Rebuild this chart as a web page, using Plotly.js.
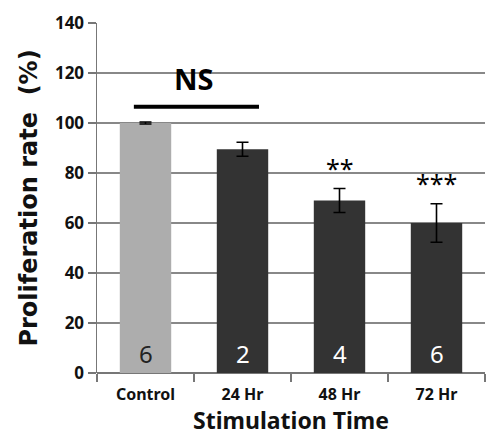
<!DOCTYPE html>
<html><head><meta charset="utf-8">
<script src="https://cdn.plot.ly/plotly-3.0.1.min.js"></script>
<style>html,body{margin:0;padding:0;background:#fff}</style>
</head><body><div id="chart" style="width:486px;height:439px"></div>
<script>
const categories = ["Control", "24 Hr", "48 Hr", "72 Hr"];
const values = [100, 89.5, 69, 60];
const errors = [0.4, 2.8, 4.8, 7.7];
const nCounts = ["6", "2", "4", "6"];
const stars = ["", "", "**", "***"];
const barColors = ["#adadad", "#333333", "#333333", "#333333"];
const countColors = ["#222222", "#ffffff", "#ffffff", "#ffffff"];
const yTicks = [0, 20, 40, 60, 80, 100, 120, 140];
const xTitle = "Stimulation Time";
const yTitle = "Proliferation rate  (%)";

const trace = {
  type: "bar", x: categories, y: values,
  marker: {color: barColors, line: {width: 0}},
  width: 0.53,
  error_y: {type: "data", array: errors, visible: true, color: "#000", thickness: 1.6, width: 6},
  hoverinfo: "none"
};

const annotations = [];
categories.forEach((c, i) => {
  annotations.push({x: c, y: 8, xref: "x", yref: "y", text: nCounts[i], showarrow: false,
    font: {family: "Noto Sans, sans-serif", size: 24, color: countColors[i]}});
  if (stars[i]) annotations.push({x: c, y: values[i] + errors[i], xref: "x", yref: "y", yanchor: "bottom", yshift: 2,
    text: stars[i], showarrow: false, font: {family: "Noto Sans, sans-serif", size: 25, color: "#000"}});
});
annotations.push({x: 0.5, y: 118, xref: "x", yref: "y", text: "<b>NS</b>", showarrow: false,
  font: {family: "Noto Sans, sans-serif", size: 29, color: "#000"}});
annotations.push({x: 0.5, y: -0.183, xref: "paper", yref: "paper", yanchor: "bottom", borderpad: 0,
  text: "<b>" + xTitle + "</b>",
  showarrow: false, font: {family: "Noto Sans, sans-serif", size: 23, color: "#111"}});

const layout = {
  width: 486, height: 439,
  margin: {l: 97, r: 1, t: 23, b: 66},
  paper_bgcolor: "#fff", plot_bgcolor: "#fff",
  showlegend: false,
  font: {family: "Noto Sans, sans-serif", color: "#111"},
  xaxis: {
    type: "category", range: [-0.5, 3.5], tickson: "boundaries",
    ticks: "outside", ticklen: 8, tickcolor: "#777", tickwidth: 1.5,
    ticklabelstandoff: 10,
    showline: false, showgrid: false, zeroline: false,
    tickfont: {size: 16, family: "Noto Sans, sans-serif", weight: "bold", color: "#111"}
  },
  yaxis: {
    range: [0, 140], tickvals: yTicks, ticks: "outside", ticklen: 8, tickcolor: "#777", tickwidth: 1.5,
    showline: true, linecolor: "#777", linewidth: 1.5,
    showgrid: true, gridcolor: "#888", gridwidth: 1.3,
    zeroline: true, zerolinecolor: "#777", zerolinewidth: 1.5,
    tickfont: {size: 17, family: "Noto Sans, sans-serif", weight: "bold", color: "#111"},
    title: {text: "<b>" + yTitle + "</b>", font: {size: 24, family: "DejaVu Sans, sans-serif", color: "#111"}, standoff: 10}
  },
  shapes: [{type: "line", xref: "x", yref: "y", x0: -0.12, x1: 1.17, y0: 106.5, y1: 106.5,
    line: {color: "#000", width: 4}}],
  annotations: annotations
};
Plotly.newPlot("chart", [trace], layout, {displayModeBar: false, staticPlot: true});
</script></body></html>
